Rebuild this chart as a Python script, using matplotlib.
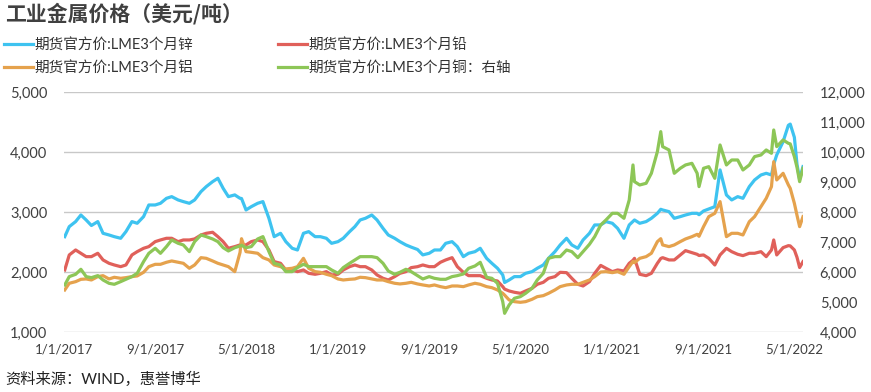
import matplotlib
matplotlib.use("Agg")
import matplotlib.pyplot as plt
import pandas as pd

dates = [
    "2017-01-03", "2017-01-15", "2017-02-01", "2017-02-15", "2017-03-01", "2017-03-15",
    "2017-04-01", "2017-04-15", "2017-05-01", "2017-05-15", "2017-06-01", "2017-06-15",
    "2017-07-01", "2017-07-15", "2017-08-01", "2017-08-15", "2017-09-01", "2017-09-15",
    "2017-10-01", "2017-10-15", "2017-11-01", "2017-11-15", "2017-12-01", "2017-12-15",
    "2018-01-01", "2018-01-15", "2018-02-01", "2018-02-15", "2018-03-01", "2018-03-15",
    "2018-04-01", "2018-04-15", "2018-04-19", "2018-05-01", "2018-05-15", "2018-06-01",
    "2018-06-15", "2018-07-01", "2018-07-15", "2018-08-01", "2018-08-15", "2018-09-01",
    "2018-09-15", "2018-10-01", "2018-10-15", "2018-11-01", "2018-11-15", "2018-12-01",
    "2018-12-15",
    "2019-01-01", "2019-01-15", "2019-02-01", "2019-02-15", "2019-03-01", "2019-03-15",
    "2019-04-01", "2019-04-15", "2019-05-01", "2019-05-15", "2019-06-01", "2019-06-15",
    "2019-07-01", "2019-07-15", "2019-08-01", "2019-08-15", "2019-09-01", "2019-09-15",
    "2019-10-01", "2019-10-15", "2019-11-01", "2019-11-15", "2019-12-01", "2019-12-15",
    "2020-01-01", "2020-01-15", "2020-02-01", "2020-02-15", "2020-03-01", "2020-03-15",
    "2020-03-20", "2020-04-01", "2020-04-15", "2020-05-01", "2020-05-15", "2020-06-01",
    "2020-06-15", "2020-07-01", "2020-07-15", "2020-08-01", "2020-08-15", "2020-09-01",
    "2020-09-15", "2020-10-01", "2020-10-15", "2020-11-01", "2020-11-15", "2020-12-01",
    "2020-12-15",
    "2021-01-01", "2021-01-15", "2021-02-01", "2021-02-15", "2021-02-25", "2021-03-01",
    "2021-03-15", "2021-04-01", "2021-04-15", "2021-05-01", "2021-05-10", "2021-05-15",
    "2021-06-01", "2021-06-15", "2021-07-01", "2021-07-15", "2021-08-01", "2021-08-15",
    "2021-08-20", "2021-09-01", "2021-09-15", "2021-10-01", "2021-10-15", "2021-11-01",
    "2021-11-15", "2021-12-01", "2021-12-15",
    "2022-01-01", "2022-01-15", "2022-02-01", "2022-02-15", "2022-03-01", "2022-03-07",
    "2022-03-15", "2022-04-01", "2022-04-15", "2022-04-20", "2022-05-01", "2022-05-08",
    "2022-05-15", "2022-05-24",
]

zinc = [
    2594, 2761, 2845, 2955, 2872, 2780, 2845, 2650, 2622, 2594, 2567, 2678,
    2845, 2817, 2928, 3122, 3122, 3150, 3233, 3261, 3206, 3178, 3150, 3206,
    3345, 3428, 3511, 3567, 3400, 3261, 3290, 3233, 3230, 3039, 3094, 3150,
    3178, 2900, 2594, 2650, 2511, 2400, 2372, 2650, 2678, 2594, 2594, 2567,
    2483,
    2511, 2567, 2678, 2761, 2872, 2900, 2955, 2872, 2733, 2622, 2567, 2511,
    2456, 2420, 2380, 2290, 2317, 2372, 2372, 2483, 2511, 2428, 2261, 2317,
    2344, 2400, 2233, 2150, 2067, 1956, 1830, 1872, 1928, 1928, 1983, 2011,
    2067, 2122, 2233, 2344, 2456, 2567, 2456, 2400, 2539, 2650, 2789, 2790,
    2845,
    2817, 2733, 2567, 2789, 2850, 2872, 2817, 2845, 2900, 2983, 3050, 3039,
    3011, 2900, 2928, 2955, 2983, 2983, 2960, 3022, 3055, 3094, 3706, 3289,
    3206, 3261, 3233,
    3428, 3539, 3622, 3650, 3622, 3800, 3956, 4178, 4450, 4470, 4250, 3800,
    3550, 3761,
]

lead = [
    2039, 2289, 2372, 2317, 2261, 2261, 2317, 2206, 2150, 2122, 2094, 2122,
    2289, 2344, 2400, 2428, 2511, 2539, 2567, 2567, 2511, 2539, 2539, 2556,
    2622, 2650, 2667, 2594, 2511, 2400, 2428, 2456, 2460, 2456, 2511, 2539,
    2511, 2372, 2178, 2150, 2039, 2039, 2011, 2039, 1983, 1967, 1983, 2011,
    1956,
    1967, 2039, 2094, 2122, 2094, 2094, 2039, 1956, 1900, 1872, 1928, 1983,
    2011, 2078, 2094, 2122, 2094, 2094, 2167, 2206, 2244, 2094, 2000, 1944,
    1944, 1944, 1900, 1872, 1855, 1761, 1720, 1689, 1667, 1650, 1689, 1733,
    1800, 1833, 1900, 1928, 2000, 1994, 1900, 1800, 1772, 1844, 1983, 2115,
    2067,
    2011, 2039, 2022, 2150, 2200, 2233, 1967, 1944, 1983, 2150, 2230, 2244,
    2206, 2206, 2289, 2361, 2328, 2300, 2280, 2289, 2233, 2122, 2289, 2400,
    2344, 2300, 2278,
    2317, 2317, 2344, 2261, 2372, 2539, 2289, 2411, 2444, 2440, 2372, 2250,
    2080, 2178,
]

aluminium = [
    1706, 1817, 1844, 1883, 1889, 1872, 1928, 1944, 1889, 1917, 1900, 1911,
    1928, 1939, 2000, 2094, 2133, 2133, 2167, 2189, 2167, 2150, 2067, 2122,
    2244, 2233, 2189, 2150, 2122, 2094, 2011, 2330, 2560, 2344, 2333, 2317,
    2244, 2206, 2122, 2094, 2056, 2067, 2094, 2233, 2067, 2011, 2000, 1967,
    1944,
    1889, 1872, 1883, 1889, 1917, 1911, 1889, 1872, 1872, 1844, 1817, 1806,
    1817, 1833, 1806, 1789, 1772, 1789, 1761, 1744, 1772, 1772, 1761, 1789,
    1817, 1800, 1761, 1744, 1706, 1650, 1620, 1539, 1511, 1500, 1511, 1550,
    1594, 1611, 1650, 1706, 1761, 1789, 1800, 1800, 1833, 1872, 1928, 2005,
    2011,
    1994, 2011, 1967, 2094, 2180, 2161, 2233, 2261, 2317, 2511, 2560, 2456,
    2428, 2456, 2511, 2556, 2594, 2633, 2600, 2761, 2928, 2983, 3178, 2594,
    2650, 2650, 2622,
    2844, 2928, 3094, 3233, 3428, 3844, 3539, 3650, 3456, 3400, 3150, 2950,
    2761, 2928,
]

copper = [
    5578, 5856, 5933, 6100, 5856, 5822, 5889, 5744, 5633, 5600, 5689, 5767,
    5856, 5967, 6356, 6633, 6800, 6633, 6856, 7078, 6967, 6911, 6689, 7022,
    7244, 7189, 7111, 7022, 6822, 6711, 6820, 6878, 6900, 6822, 6856, 7111,
    7189, 6689, 6300, 6244, 6022, 6022, 6156, 6267, 6189, 6189, 6189, 6189,
    6078,
    5967, 6156, 6300, 6411, 6522, 6522, 6522, 6489, 6300, 6044, 5933, 6000,
    6100, 6022, 5889, 5778, 5856, 5800, 5767, 5767, 5856, 5889, 5944, 6133,
    6211, 6333, 5833, 5800, 5633, 5022, 4633, 4911, 5133, 5189, 5300, 5467,
    5744, 5967, 6467, 6522, 6522, 6744, 6689, 6489, 6689, 6933, 7189, 7578,
    7744,
    7967, 7967, 7800, 8411, 9578, 9022, 8911, 8967, 9300, 10022, 10689, 10189,
    10078, 9300, 9467, 9578, 9633, 9300, 8856, 9467, 9522, 9133, 10244, 9578,
    9744, 9744, 9411,
    9578, 9856, 9911, 10078, 9967, 10744, 10189, 10411, 10300, 10280, 9856, 9500,
    9022, 9467,
]

labels = [
    "期货官方价:LME3个月锌",
    "期货官方价:LME3个月铅",
    "期货官方价:LME3个月铝",
    "期货官方价:LME3个月铜：右轴",
]
colors = ["#3EC3F0", "#E0605A", "#E5A24D", "#8DC657"]
xtick_dates = ["2017-01-01", "2017-09-01", "2018-05-01", "2019-01-01", "2019-09-01",
               "2020-05-01", "2021-01-01", "2021-09-01", "2022-05-01"]

FONTS = ["Lato", "Noto Sans CJK SC", "DejaVu Sans"]
plt.rcParams["font.family"] = FONTS

x = pd.to_datetime(dates)

fig = plt.figure(figsize=(8.71, 3.92), dpi=100)
ax = fig.add_axes([64 / 871, 1 - 332.3 / 392, (803 - 64) / 871, 240 / 392])
ax2 = ax.twinx()

lw = 2.3
h1, = ax.plot(x, zinc, color=colors[0], lw=lw, solid_joinstyle="round")
h2, = ax.plot(x, lead, color=colors[1], lw=lw, solid_joinstyle="round")
h3, = ax.plot(x, aluminium, color=colors[2], lw=lw, solid_joinstyle="round")
h4, = ax2.plot(x, copper, color=colors[3], lw=lw, solid_joinstyle="round")

ax.set_xlim(x[0], x[-1])
ax.set_ylim(1000, 5000)
ax2.set_ylim(4000, 12000)
ax.set_yticks(range(1000, 5001, 1000))
ax2.set_yticks(range(4000, 12001, 1000))
fmt = matplotlib.ticker.FuncFormatter(lambda v, p: f"{int(v):,}")
ax.yaxis.set_major_formatter(fmt)
ax2.yaxis.set_major_formatter(fmt)
ax.grid(axis="y", color="#C8C8C8", lw=1.0)
ax.set_axisbelow(True)

xt = pd.to_datetime(xtick_dates)
ax.set_xticks(xt)
ax.set_xticklabels([f"{d.month}/{d.day}/{d.year}" for d in xt])

for a in (ax, ax2):
    for s in a.spines.values():
        s.set_visible(False)
    a.tick_params(length=0)
ax.tick_params(axis="y", labelsize=10.5, labelcolor="#404040", pad=12)
ax2.tick_params(axis="y", labelsize=10.5, labelcolor="#404040", pad=12)
ax.tick_params(axis="x", labelsize=9.5, labelcolor="#404040", pad=8)

fig.text(5 / 871, 1 - 14 / 392, "工业金属价格（美元/吨）", fontsize=15, fontweight="bold",
         color="#404040", va="center", ha="left", family=["Noto Sans CJK SC", "DejaVu Sans"])

leg = fig.legend([h1, h3, h2, h4], [labels[0], labels[2], labels[1], labels[3]],
                 loc="upper left", bbox_to_anchor=(4 / 871, 1 - 38 / 392), ncol=2,
                 frameon=False, fontsize=10.5, handlelength=2.0, handletextpad=0.1,
                 columnspacing=5.8, labelspacing=0.6, borderpad=0, borderaxespad=0)
for t in leg.get_texts():
    t.set_color("#333333")

fig.text(5 / 871, 1 - 379 / 392, "资料来源：WIND，惠誉博华", fontsize=11, color="#222222",
         va="center", ha="left")

fig.savefig("out.png", dpi=100)
